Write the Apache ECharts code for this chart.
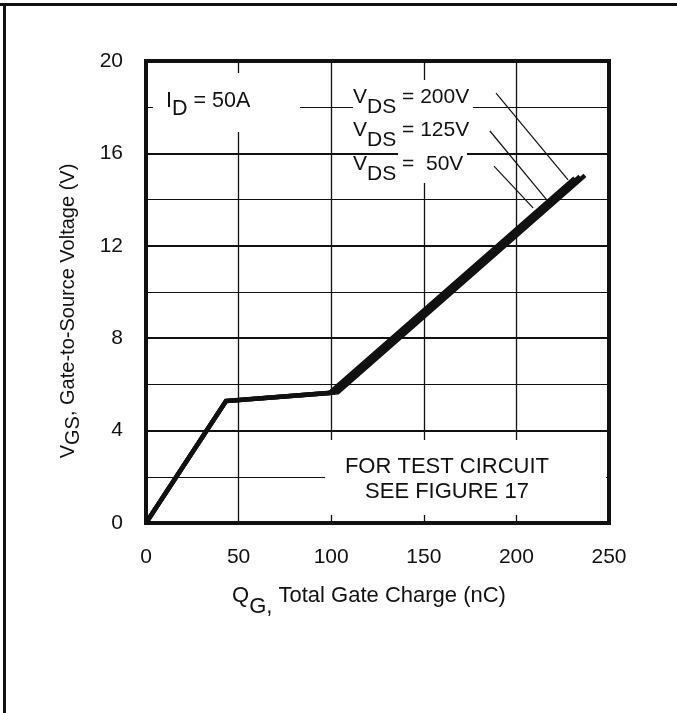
<!DOCTYPE html>
<html>
<head>
<meta charset="utf-8">
<script src="https://cdn.jsdelivr.net/npm/echarts@6/dist/echarts.min.js"></script>
<style>
  html, body { margin: 0; padding: 0; background: #fff; }
  #chart { width: 677px; height: 713px; }
</style>
</head>
<body>
<div id="chart"></div>
<script>
// Gate charge characteristic, I_D = 50 A, for three drain-source voltages
const qg50 = [0, 43.2, 99.1, 231.5];
const vgs50 = [0, 5.28, 5.63, 14.93];
const qg125 = [0, 43.2, 101.3, 234.3];
const vgs125 = [0, 5.28, 5.645, 15.0];
const qg200 = [0, 43.2, 103.5, 237.0];
const vgs200 = [0, 5.28, 5.66, 15.05];

// Leader lines from each V_DS label down to its curve
const leadQ200 = [189.0, 227.9];
const leadV200 = [18.61, 14.85];
const leadQ125 = [185.7, 216.5];
const leadV125 = [16.97, 13.98];
const leadQ50 = [187.9, 209.0];
const leadV50 = [15.45, 13.64];

// Axis ticks
const xTicks = [0, 50, 100, 150, 200, 250];
const yTicks = [0, 4, 8, 12, 16, 20];

// Label texts
const idLabel = ['I', 'D', ' = 50A'];
const vdsLabels = [
  ['V', 'DS', ' = 200V'],
  ['V', 'DS', ' = 125V'],
  ['V', 'DS', ' =  50V']
];
const noteLines = ['FOR TEST CIRCUIT', 'SEE FIGURE 17'];
const xTitle = ['Q', 'G,', ' Total Gate Charge (nC)'];
const yTitle = ['V', 'GS', ', Gate-to-Source Voltage (V)'];

const FONT = '"Liberation Sans", Arial, Helvetica, sans-serif';
const INK = '#111';

const pairs = (xs, ys) => xs.map((x, i) => [x, ys[i]]);

const chart = echarts.init(document.getElementById('chart'), null, { renderer: 'canvas' });

const curveStyle = { color: INK, width: 4.5, join: 'miter', cap: 'butt' };
const leaderStyle = { color: INK, width: 1.2 };

function lineSeries(name, data, style) {
  return {
    name, type: 'line', data, symbol: 'none', silent: true,
    lineStyle: style, z: 2, clip: false
  };
}

chart.setOption({
  animation: false,
  backgroundColor: '#fff',
  grid: {
    left: 146, right: 68, top: 61, bottom: 190,
    show: true, borderColor: INK, borderWidth: 4, backgroundColor: 'transparent'
  },
  xAxis: {
    type: 'value',
    min: xTicks[0], max: xTicks[xTicks.length - 1], interval: xTicks[1] - xTicks[0],
    axisLine: { show: false }, axisTick: { show: false },
    axisLabel: { color: INK, fontSize: 21, fontFamily: FONT, margin: 24 },
    splitLine: { show: true, lineStyle: { color: INK, width: 1.3 } }
  },
  yAxis: {
    type: 'value',
    min: yTicks[0], max: yTicks[yTicks.length - 1], interval: yTicks[1] - yTicks[0],
    axisLine: { show: false }, axisTick: { show: false },
    axisLabel: { color: INK, fontSize: 21, fontFamily: FONT, margin: 23 },
    splitLine: { show: true, lineStyle: { color: INK, width: 1.8 } },
    minorTick: { show: false, splitNumber: 2 },
    minorSplitLine: { show: true, lineStyle: { color: INK, width: 1 } }
  },
  series: [
    lineSeries('VDS = 50V', pairs(qg50, vgs50), curveStyle),
    lineSeries('VDS = 125V', pairs(qg125, vgs125), curveStyle),
    lineSeries('VDS = 200V', pairs(qg200, vgs200), curveStyle),
    lineSeries('lead200', pairs(leadQ200, leadV200), leaderStyle),
    lineSeries('lead125', pairs(leadQ125, leadV125), leaderStyle),
    lineSeries('lead50', pairs(leadQ50, leadV50), leaderStyle)
  ]
});

// Place annotations from data coordinates
const px = (q, v) => chart.convertToPixel({ gridIndex: 0 }, [q, v]);

function maskRect(q0, v0, q1, v1) {
  const a = px(q0, v0), b = px(q1, v1);
  return {
    type: 'rect', z: 1, silent: true,
    shape: { x: Math.min(a[0], b[0]), y: Math.min(a[1], b[1]),
             width: Math.abs(b[0] - a[0]), height: Math.abs(b[1] - a[1]) },
    style: { fill: '#fff' }
  };
}

// Rich text with a lowered subscript: main run sits at the top of the line,
// subscript at the bottom of a line that is taller by the drop
function subText(parts, size, drop) {
  return {
    text: '{m|' + parts[0] + '}{s|' + parts[1] + '}{m|' + parts[2] + '}',
    rich: {
      m: { fontSize: size, fontFamily: FONT, fill: INK, lineHeight: size, verticalAlign: 'top' },
      s: { fontSize: size, fontFamily: FONT, fill: INK, lineHeight: size + drop, verticalAlign: 'bottom' }
    },
    fontSize: size, fontFamily: FONT, fill: INK
  };
}

function labelAt(q, v, parts, size, drop) {
  const p = px(q, v);
  return {
    type: 'text', z: 3, silent: true, x: p[0], y: p[1],
    style: Object.assign(subText(parts, size, drop), { align: 'left', verticalAlign: 'top' })
  };
}

const notePos = px(162.5, 1.88);
const vdsAnchors = [18.88, 17.45, 16.0];

const graphics = [
  // outer frame
  { type: 'line', silent: true, shape: { x1: 0, y1: 4.5, x2: 677, y2: 4.5 }, style: { stroke: INK, lineWidth: 3 } },
  { type: 'line', silent: true, shape: { x1: 4.5, y1: 3, x2: 4.5, y2: 713 }, style: { stroke: INK, lineWidth: 3 } },
  // white boxes behind annotations
  maskRect(3.8, 19.48, 83.2, 16.93),
  maskRect(111.8, 19.18, 176.6, 16.15),
  maskRect(136.1, 16.15, 173.3, 14.72),
  maskRect(96.7, 3.59, 248.4, 0.35),
  labelAt(10.8, 18.76, idLabel, 21.5, 8.5),
  {
    type: 'text', z: 3, silent: true, x: notePos[0], y: notePos[1],
    style: {
      text: noteLines.join('\n'), fontSize: 22, fontFamily: FONT, fill: INK,
      lineHeight: 25, align: 'center', verticalAlign: 'middle'
    }
  },
  // axis titles
  {
    type: 'text', silent: true, x: 369, y: 585,
    style: Object.assign(subText(xTitle, 22, 11), { align: 'center', verticalAlign: 'top' })
  },
  {
    type: 'text', silent: true, x: 58, y: 311, rotation: Math.PI / 2,
    style: Object.assign(subText(yTitle, 20, 5), { align: 'center', verticalAlign: 'top' })
  }
];
vdsLabels.forEach((parts, i) => graphics.push(labelAt(111.8, vdsAnchors[i], parts, 21, 10)));

chart.setOption({ graphic: graphics });
</script>
</body>
</html>
